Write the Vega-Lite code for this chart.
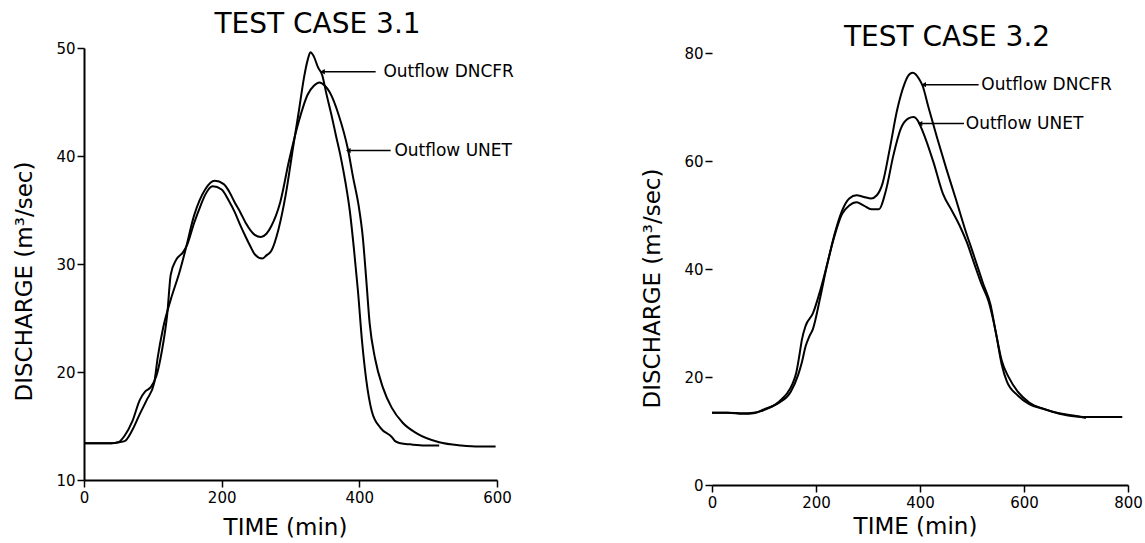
{
  "$schema": "https://vega.github.io/schema/vega-lite/v6.json",
  "background": "white",
  "padding": {"left": 13, "top": 11, "right": 0, "bottom": 0},
  "bounds": "flush",
  "spacing": 215,
  "config": {
    "view": {"stroke": null},
    "font": "DejaVu Sans",
    "axis": {
      "grid": false,
      "domainColor": "black",
      "domainWidth": 2,
      "tickColor": "black",
      "tickWidth": 1.5,
      "tickSize": 7,
      "labelColor": "black",
      "labelFont": "DejaVu Sans",
      "labelFontSize": 15,
      "labelFlush": false,
      "labelOverlap": false,
      "titleColor": "black",
      "titleFont": "DejaVu Sans",
      "titleFontSize": 23,
      "titleFontWeight": "normal"
    },
    "axisX": {"labelPadding": 3, "titlePadding": 11},
    "axisY": {"labelPadding": 2, "titlePadding": 19},
    "title": {"font": "DejaVu Sans", "fontSize": 28, "fontWeight": "normal", "color": "black", "anchor": "middle", "offset": 2, "dx": 27}
  },
  "datasets": {
    "c31": [
      {"series": "DNCFR", "t": 0, "q": 13.4}, {"series": "DNCFR", "t": 20, "q": 13.4}, {"series": "DNCFR", "t": 40, "q": 13.4},
      {"series": "DNCFR", "t": 50, "q": 13.5}, {"series": "DNCFR", "t": 59, "q": 14.1}, {"series": "DNCFR", "t": 70, "q": 15.4},
      {"series": "DNCFR", "t": 81, "q": 17.4}, {"series": "DNCFR", "t": 89, "q": 18.2}, {"series": "DNCFR", "t": 97, "q": 18.6},
      {"series": "DNCFR", "t": 105, "q": 19.6}, {"series": "DNCFR", "t": 113, "q": 21.9}, {"series": "DNCFR", "t": 121, "q": 25.4},
      {"series": "DNCFR", "t": 126, "q": 29.0}, {"series": "DNCFR", "t": 134, "q": 30.4}, {"series": "DNCFR", "t": 144, "q": 31.1},
      {"series": "DNCFR", "t": 150, "q": 31.8}, {"series": "DNCFR", "t": 160, "q": 33.8}, {"series": "DNCFR", "t": 170, "q": 35.5},
      {"series": "DNCFR", "t": 176, "q": 36.4}, {"series": "DNCFR", "t": 187, "q": 37.2}, {"series": "DNCFR", "t": 200, "q": 36.9},
      {"series": "DNCFR", "t": 210, "q": 35.9}, {"series": "DNCFR", "t": 219, "q": 34.8}, {"series": "DNCFR", "t": 227, "q": 33.6},
      {"series": "DNCFR", "t": 235, "q": 32.5}, {"series": "DNCFR", "t": 242, "q": 31.6}, {"series": "DNCFR", "t": 248, "q": 30.9},
      {"series": "DNCFR", "t": 259, "q": 30.5}, {"series": "DNCFR", "t": 265, "q": 30.8}, {"series": "DNCFR", "t": 272, "q": 31.2},
      {"series": "DNCFR", "t": 282.5, "q": 33.2}, {"series": "DNCFR", "t": 293, "q": 36.4}, {"series": "DNCFR", "t": 304, "q": 40.9},
      {"series": "DNCFR", "t": 312, "q": 44.1}, {"series": "DNCFR", "t": 320, "q": 47.4}, {"series": "DNCFR", "t": 325, "q": 48.9},
      {"series": "DNCFR", "t": 329, "q": 49.6}, {"series": "DNCFR", "t": 334, "q": 49.2}, {"series": "DNCFR", "t": 340, "q": 48.2},
      {"series": "DNCFR", "t": 346, "q": 47.5}, {"series": "DNCFR", "t": 352, "q": 45.8}, {"series": "DNCFR", "t": 359.5, "q": 43.8},
      {"series": "DNCFR", "t": 366, "q": 41.9}, {"series": "DNCFR", "t": 373, "q": 39.9}, {"series": "DNCFR", "t": 380, "q": 37.5},
      {"series": "DNCFR", "t": 386, "q": 35.0}, {"series": "DNCFR", "t": 392, "q": 31.5}, {"series": "DNCFR", "t": 398, "q": 27.5},
      {"series": "DNCFR", "t": 404, "q": 22.8}, {"series": "DNCFR", "t": 410, "q": 19.3}, {"series": "DNCFR", "t": 418, "q": 16.4},
      {"series": "DNCFR", "t": 431, "q": 14.8}, {"series": "DNCFR", "t": 447, "q": 14.0}, {"series": "DNCFR", "t": 452, "q": 13.6},
      {"series": "DNCFR", "t": 460, "q": 13.4}, {"series": "DNCFR", "t": 474, "q": 13.3}, {"series": "DNCFR", "t": 495, "q": 13.2},
      {"series": "DNCFR", "t": 516, "q": 13.2},
      {"series": "UNET", "t": 0, "q": 13.4}, {"series": "UNET", "t": 20, "q": 13.4}, {"series": "UNET", "t": 40, "q": 13.4},
      {"series": "UNET", "t": 50, "q": 13.5}, {"series": "UNET", "t": 59, "q": 13.6}, {"series": "UNET", "t": 70, "q": 14.6},
      {"series": "UNET", "t": 81, "q": 16.1}, {"series": "UNET", "t": 91, "q": 17.4}, {"series": "UNET", "t": 102, "q": 19.0},
      {"series": "UNET", "t": 107, "q": 21.3}, {"series": "UNET", "t": 115, "q": 24.1}, {"series": "UNET", "t": 126, "q": 26.7},
      {"series": "UNET", "t": 139, "q": 29.3}, {"series": "UNET", "t": 147, "q": 31.2}, {"series": "UNET", "t": 160, "q": 34.5},
      {"series": "UNET", "t": 176, "q": 36.9}, {"series": "UNET", "t": 190, "q": 37.7}, {"series": "UNET", "t": 203, "q": 37.4},
      {"series": "UNET", "t": 211, "q": 36.7}, {"series": "UNET", "t": 219, "q": 35.7}, {"series": "UNET", "t": 227, "q": 34.8},
      {"series": "UNET", "t": 235, "q": 33.8}, {"series": "UNET", "t": 248, "q": 32.7}, {"series": "UNET", "t": 257, "q": 32.5},
      {"series": "UNET", "t": 265, "q": 32.8}, {"series": "UNET", "t": 272, "q": 33.5}, {"series": "UNET", "t": 285, "q": 35.7},
      {"series": "UNET", "t": 298, "q": 39.6}, {"series": "UNET", "t": 312, "q": 43.2}, {"series": "UNET", "t": 325, "q": 45.7},
      {"series": "UNET", "t": 334, "q": 46.5}, {"series": "UNET", "t": 342, "q": 46.8}, {"series": "UNET", "t": 350, "q": 46.5},
      {"series": "UNET", "t": 357, "q": 45.9}, {"series": "UNET", "t": 370, "q": 43.8}, {"series": "UNET", "t": 383.5, "q": 40.6},
      {"series": "UNET", "t": 391, "q": 38.0}, {"series": "UNET", "t": 399, "q": 35.4}, {"series": "UNET", "t": 405, "q": 32.5},
      {"series": "UNET", "t": 410, "q": 28.6}, {"series": "UNET", "t": 415, "q": 24.5}, {"series": "UNET", "t": 423, "q": 21.2},
      {"series": "UNET", "t": 434, "q": 18.6}, {"series": "UNET", "t": 447, "q": 16.7}, {"series": "UNET", "t": 463, "q": 15.3},
      {"series": "UNET", "t": 484, "q": 14.3}, {"series": "UNET", "t": 516, "q": 13.5}, {"series": "UNET", "t": 548, "q": 13.2},
      {"series": "UNET", "t": 575, "q": 13.1}, {"series": "UNET", "t": 598, "q": 13.1}
    ],
    "c32": [
      {"series": "DNCFR", "t": 0, "q": 13.4}, {"series": "DNCFR", "t": 30, "q": 13.4}, {"series": "DNCFR", "t": 60, "q": 13.3},
      {"series": "DNCFR", "t": 80, "q": 13.4}, {"series": "DNCFR", "t": 95, "q": 13.7}, {"series": "DNCFR", "t": 110, "q": 14.3},
      {"series": "DNCFR", "t": 123, "q": 15.0}, {"series": "DNCFR", "t": 135, "q": 16.0}, {"series": "DNCFR", "t": 144.5, "q": 17.0},
      {"series": "DNCFR", "t": 155, "q": 18.8}, {"series": "DNCFR", "t": 162, "q": 20.8}, {"series": "DNCFR", "t": 168, "q": 24.0},
      {"series": "DNCFR", "t": 173, "q": 27.0}, {"series": "DNCFR", "t": 180, "q": 29.5}, {"series": "DNCFR", "t": 194, "q": 31.8},
      {"series": "DNCFR", "t": 208, "q": 36.0}, {"series": "DNCFR", "t": 222, "q": 41.1}, {"series": "DNCFR", "t": 236, "q": 46.6},
      {"series": "DNCFR", "t": 250, "q": 50.8}, {"series": "DNCFR", "t": 264, "q": 53.1}, {"series": "DNCFR", "t": 278, "q": 53.7},
      {"series": "DNCFR", "t": 292, "q": 53.4}, {"series": "DNCFR", "t": 306, "q": 53.1}, {"series": "DNCFR", "t": 317, "q": 53.7},
      {"series": "DNCFR", "t": 328, "q": 55.9}, {"series": "DNCFR", "t": 342, "q": 62.4}, {"series": "DNCFR", "t": 356, "q": 69.5},
      {"series": "DNCFR", "t": 370, "q": 74.3}, {"series": "DNCFR", "t": 377, "q": 75.8}, {"series": "DNCFR", "t": 385.5, "q": 76.4},
      {"series": "DNCFR", "t": 392, "q": 76.1}, {"series": "DNCFR", "t": 398, "q": 75.3}, {"series": "DNCFR", "t": 405, "q": 74.0},
      {"series": "DNCFR", "t": 416, "q": 70.1}, {"series": "DNCFR", "t": 433, "q": 64.3}, {"series": "DNCFR", "t": 451, "q": 58.5},
      {"series": "DNCFR", "t": 468.6, "q": 53.1}, {"series": "DNCFR", "t": 486, "q": 47.6}, {"series": "DNCFR", "t": 504, "q": 42.4},
      {"series": "DNCFR", "t": 521.5, "q": 37.3}, {"series": "DNCFR", "t": 535.6, "q": 33.4}, {"series": "DNCFR", "t": 546, "q": 28.2},
      {"series": "DNCFR", "t": 557, "q": 23.1}, {"series": "DNCFR", "t": 571, "q": 19.9}, {"series": "DNCFR", "t": 588, "q": 17.3},
      {"series": "DNCFR", "t": 610, "q": 15.3}, {"series": "DNCFR", "t": 638, "q": 14.1}, {"series": "DNCFR", "t": 673, "q": 13.2},
      {"series": "DNCFR", "t": 700, "q": 12.8}, {"series": "DNCFR", "t": 719, "q": 12.4},
      {"series": "UNET", "t": 0, "q": 13.4}, {"series": "UNET", "t": 30, "q": 13.4}, {"series": "UNET", "t": 60, "q": 13.2},
      {"series": "UNET", "t": 80, "q": 13.3}, {"series": "UNET", "t": 102, "q": 14.1}, {"series": "UNET", "t": 116, "q": 14.6},
      {"series": "UNET", "t": 130, "q": 15.3}, {"series": "UNET", "t": 151.5, "q": 17.3}, {"series": "UNET", "t": 166, "q": 20.5},
      {"series": "UNET", "t": 173, "q": 22.8}, {"series": "UNET", "t": 180, "q": 25.7}, {"series": "UNET", "t": 187, "q": 27.5},
      {"series": "UNET", "t": 194, "q": 28.9}, {"series": "UNET", "t": 208, "q": 34.7}, {"series": "UNET", "t": 222, "q": 41.1},
      {"series": "UNET", "t": 236, "q": 46.3}, {"series": "UNET", "t": 250, "q": 50.2}, {"series": "UNET", "t": 264, "q": 51.8},
      {"series": "UNET", "t": 278, "q": 52.4}, {"series": "UNET", "t": 292, "q": 51.8}, {"series": "UNET", "t": 306.5, "q": 51.1},
      {"series": "UNET", "t": 320.6, "q": 51.1}, {"series": "UNET", "t": 334.7, "q": 54.7}, {"series": "UNET", "t": 348.8, "q": 61.1},
      {"series": "UNET", "t": 362.9, "q": 66.0}, {"series": "UNET", "t": 377, "q": 67.9}, {"series": "UNET", "t": 387.6, "q": 68.2},
      {"series": "UNET", "t": 396, "q": 67.5}, {"series": "UNET", "t": 405, "q": 65.6}, {"series": "UNET", "t": 426, "q": 59.8},
      {"series": "UNET", "t": 444, "q": 54.0}, {"series": "UNET", "t": 461.6, "q": 50.8}, {"series": "UNET", "t": 475.7, "q": 48.2},
      {"series": "UNET", "t": 490, "q": 45.0}, {"series": "UNET", "t": 504, "q": 41.1}, {"series": "UNET", "t": 518, "q": 37.3},
      {"series": "UNET", "t": 532, "q": 34.0}, {"series": "UNET", "t": 546, "q": 28.2}, {"series": "UNET", "t": 557, "q": 22.4},
      {"series": "UNET", "t": 567, "q": 19.2}, {"series": "UNET", "t": 588, "q": 16.6}, {"series": "UNET", "t": 610, "q": 15.0},
      {"series": "UNET", "t": 638, "q": 14.1}, {"series": "UNET", "t": 673, "q": 13.1}, {"series": "UNET", "t": 715, "q": 12.6},
      {"series": "UNET", "t": 750, "q": 12.6}, {"series": "UNET", "t": 789, "q": 12.6}
    ],
    "a31": [
      {"label": "Outflow DNCFR", "tip": 346.5, "end": 423.7, "lx": 435, "q": 47.8},
      {"label": "Outflow UNET", "tip": 384, "end": 445.5, "lx": 451, "q": 40.5}
    ],
    "a32": [
      {"label": "Outflow DNCFR", "tip": 407, "end": 512.7, "lx": 518, "q": 74.2},
      {"label": "Outflow UNET", "tip": 400, "end": 484.6, "lx": 488, "q": 67}
    ]
  },
  "hconcat": [
    {
      "width": 413,
      "height": 432,
      "title": "TEST CASE 3.1",
      "layer": [
        {
          "data": {"name": "c31"},
          "mark": {"type": "line", "interpolate": "monotone", "color": "black", "strokeWidth": 2},
          "encoding": {
            "x": {"field": "t", "type": "quantitative", "scale": {"domain": [0, 600], "nice": false},
                  "axis": {"values": [0, 200, 400, 600], "title": "TIME (min)", "titleX": 201}},
            "y": {"field": "q", "type": "quantitative", "scale": {"domain": [10, 50], "nice": false},
                  "axis": {"values": [10, 20, 30, 40, 50], "title": "DISCHARGE (m³/sec)", "titleY": 233}},
            "detail": {"field": "series"}
          }
        },
        {
          "data": {"name": "a31"},
          "mark": {"type": "rule", "color": "black", "strokeWidth": 1.5},
          "encoding": {
            "x": {"field": "tip", "type": "quantitative"},
            "x2": {"field": "end"},
            "y": {"field": "q", "type": "quantitative"}
          }
        },
        {
          "data": {"name": "a31"},
          "mark": {"type": "point", "shape": "triangle-left", "filled": true, "size": 28, "color": "black", "opacity": 1},
          "encoding": {
            "x": {"field": "tip", "type": "quantitative"},
            "y": {"field": "q", "type": "quantitative"}
          }
        },
        {
          "data": {"name": "a31"},
          "mark": {"type": "text", "align": "left", "baseline": "middle", "fontSize": 17, "font": "DejaVu Sans", "color": "black"},
          "encoding": {
            "x": {"field": "lx", "type": "quantitative"},
            "y": {"field": "q", "type": "quantitative"},
            "text": {"field": "label"}
          }
        }
      ]
    },
    {
      "width": 416,
      "height": 437,
      "title": {"text": "TEST CASE 3.2", "dy": 8},
      "layer": [
        {
          "data": {"name": "c32"},
          "mark": {"type": "line", "interpolate": "monotone", "color": "black", "strokeWidth": 2},
          "encoding": {
            "x": {"field": "t", "type": "quantitative", "scale": {"domain": [0, 800], "nice": false},
                  "axis": {"values": [0, 200, 400, 600, 800], "title": "TIME (min)", "titleX": 203, "titlePadding": 5}},
            "y": {"field": "q", "type": "quantitative", "scale": {"domain": [0, 81], "nice": false},
                  "axis": {"values": [0, 20, 40, 60, 80], "domain": false, "title": "DISCHARGE (m³/sec)", "titleY": 240}},
            "detail": {"field": "series"}
          }
        },
        {
          "mark": {"type": "rule", "color": "black", "strokeWidth": 2},
          "encoding": {
            "x": {"datum": 0, "type": "quantitative"},
            "y": {"datum": 0, "type": "quantitative"},
            "y2": {"datum": 80}
          }
        },
        {
          "data": {"name": "a32"},
          "mark": {"type": "rule", "color": "black", "strokeWidth": 1.5},
          "encoding": {
            "x": {"field": "tip", "type": "quantitative"},
            "x2": {"field": "end"},
            "y": {"field": "q", "type": "quantitative"}
          }
        },
        {
          "data": {"name": "a32"},
          "mark": {"type": "point", "shape": "triangle-left", "filled": true, "size": 28, "color": "black", "opacity": 1},
          "encoding": {
            "x": {"field": "tip", "type": "quantitative"},
            "y": {"field": "q", "type": "quantitative"}
          }
        },
        {
          "data": {"name": "a32"},
          "mark": {"type": "text", "align": "left", "baseline": "middle", "fontSize": 17, "font": "DejaVu Sans", "color": "black"},
          "encoding": {
            "x": {"field": "lx", "type": "quantitative"},
            "y": {"field": "q", "type": "quantitative"},
            "text": {"field": "label"}
          }
        }
      ]
    }
  ]
}
